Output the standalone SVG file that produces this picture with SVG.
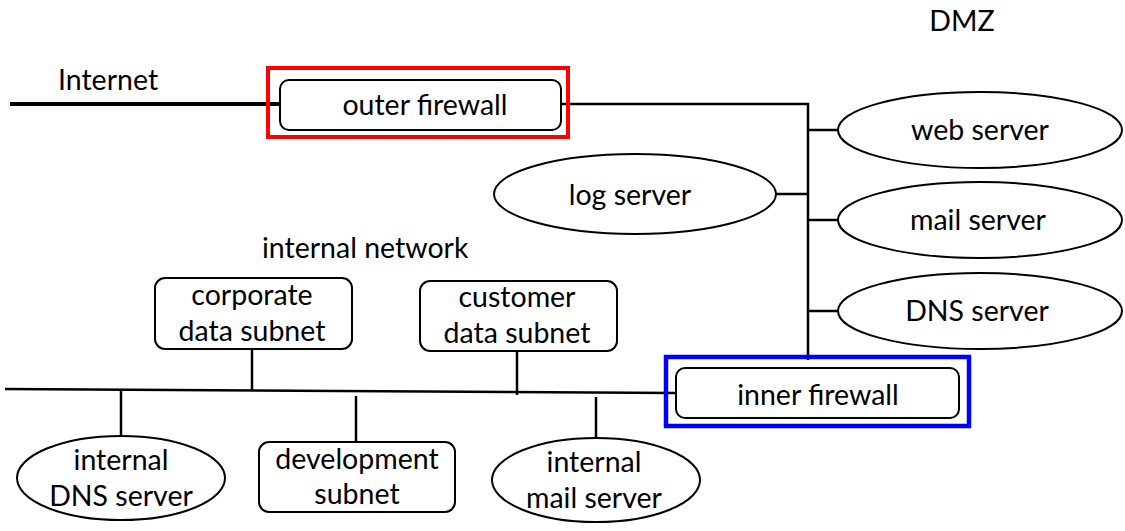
<svg xmlns="http://www.w3.org/2000/svg" width="1125" height="531" viewBox="0 0 1125 531">
<style>
text { font-family: Lato, "Liberation Sans", sans-serif; font-size: 28.5px; fill: #000; text-anchor: middle; }
.lbl { text-anchor: start; }
.node { fill: #fff; stroke: #000; stroke-width: 2; }
.link { stroke: #000; stroke-width: 2.5; fill: none; }
</style>
<rect width="1125" height="531" fill="#fff"/>
<text x="962" y="31">DMZ</text>
<text class="lbl" x="58" y="90">Internet</text>
<text class="lbl" x="262" y="258">internal network</text>
<g id="connectors">
  <line x1="10" y1="104" x2="280" y2="104" stroke="#000" stroke-width="4"/>
  <polyline class="link" points="561,104 808,104 808,360"/>
  <line class="link" x1="808" y1="130" x2="838" y2="130"/>
  <line class="link" x1="808" y1="220" x2="838" y2="220"/>
  <line class="link" x1="808" y1="311" x2="838" y2="311"/>
  <line class="link" x1="776" y1="194" x2="808" y2="194"/>
  <line class="link" x1="5" y1="389" x2="676" y2="393"/>
  <line class="link" x1="252" y1="349" x2="252" y2="390"/>
  <line class="link" x1="517" y1="351" x2="517" y2="395"/>
  <line class="link" x1="121" y1="391" x2="121" y2="437"/>
  <line class="link" x1="356" y1="396" x2="356" y2="442"/>
  <line class="link" x1="596" y1="397" x2="596" y2="441"/>
</g>
<g id="outer-firewall">
  <rect x="268" y="68" width="300" height="69" fill="none" stroke="#f00" stroke-width="4"/>
  <rect class="node" x="280" y="80" width="281" height="50" rx="9"/>
  <text x="425" y="115">outer firewall</text>
</g>
<g id="web-server">
  <ellipse class="node" cx="980" cy="130" rx="142" ry="38"/>
  <text x="980" y="140">web server</text>
</g>
<g id="mail-server">
  <ellipse class="node" cx="980" cy="220" rx="142" ry="38"/>
  <text x="978" y="230">mail server</text>
</g>
<g id="dns-server">
  <ellipse class="node" cx="980" cy="311" rx="142" ry="38"/>
  <text x="977" y="321">DNS server</text>
</g>
<g id="log-server">
  <ellipse class="node" cx="635" cy="194" rx="141" ry="40"/>
  <text x="630" y="205">log server</text>
</g>
<g id="corporate-data-subnet">
  <rect class="node" x="155" y="278" width="197" height="71" rx="10"/>
  <text x="252" y="305">corporate</text>
  <text x="252" y="341">data subnet</text>
</g>
<g id="customer-data-subnet">
  <rect class="node" x="420" y="281" width="197" height="70" rx="10"/>
  <text x="517" y="307">customer</text>
  <text x="517" y="343">data subnet</text>
</g>
<g id="inner-firewall">
  <rect x="666" y="357" width="303" height="69" fill="none" stroke="#00f" stroke-width="4.5"/>
  <rect class="node" x="676" y="368" width="283" height="50" rx="9"/>
  <text x="818" y="405">inner firewall</text>
</g>
<g id="internal-dns-server">
  <ellipse class="node" cx="121" cy="478" rx="104" ry="42"/>
  <text x="121" y="470">internal</text>
  <text x="121" y="506">DNS server</text>
</g>
<g id="development-subnet">
  <rect class="node" x="259" y="442" width="196" height="70" rx="10"/>
  <text x="357" y="469">development</text>
  <text x="357" y="504">subnet</text>
</g>
<g id="internal-mail-server">
  <ellipse class="node" cx="596" cy="480" rx="104" ry="42"/>
  <text x="594" y="472">internal</text>
  <text x="594" y="508">mail server</text>
</g>
</svg>
